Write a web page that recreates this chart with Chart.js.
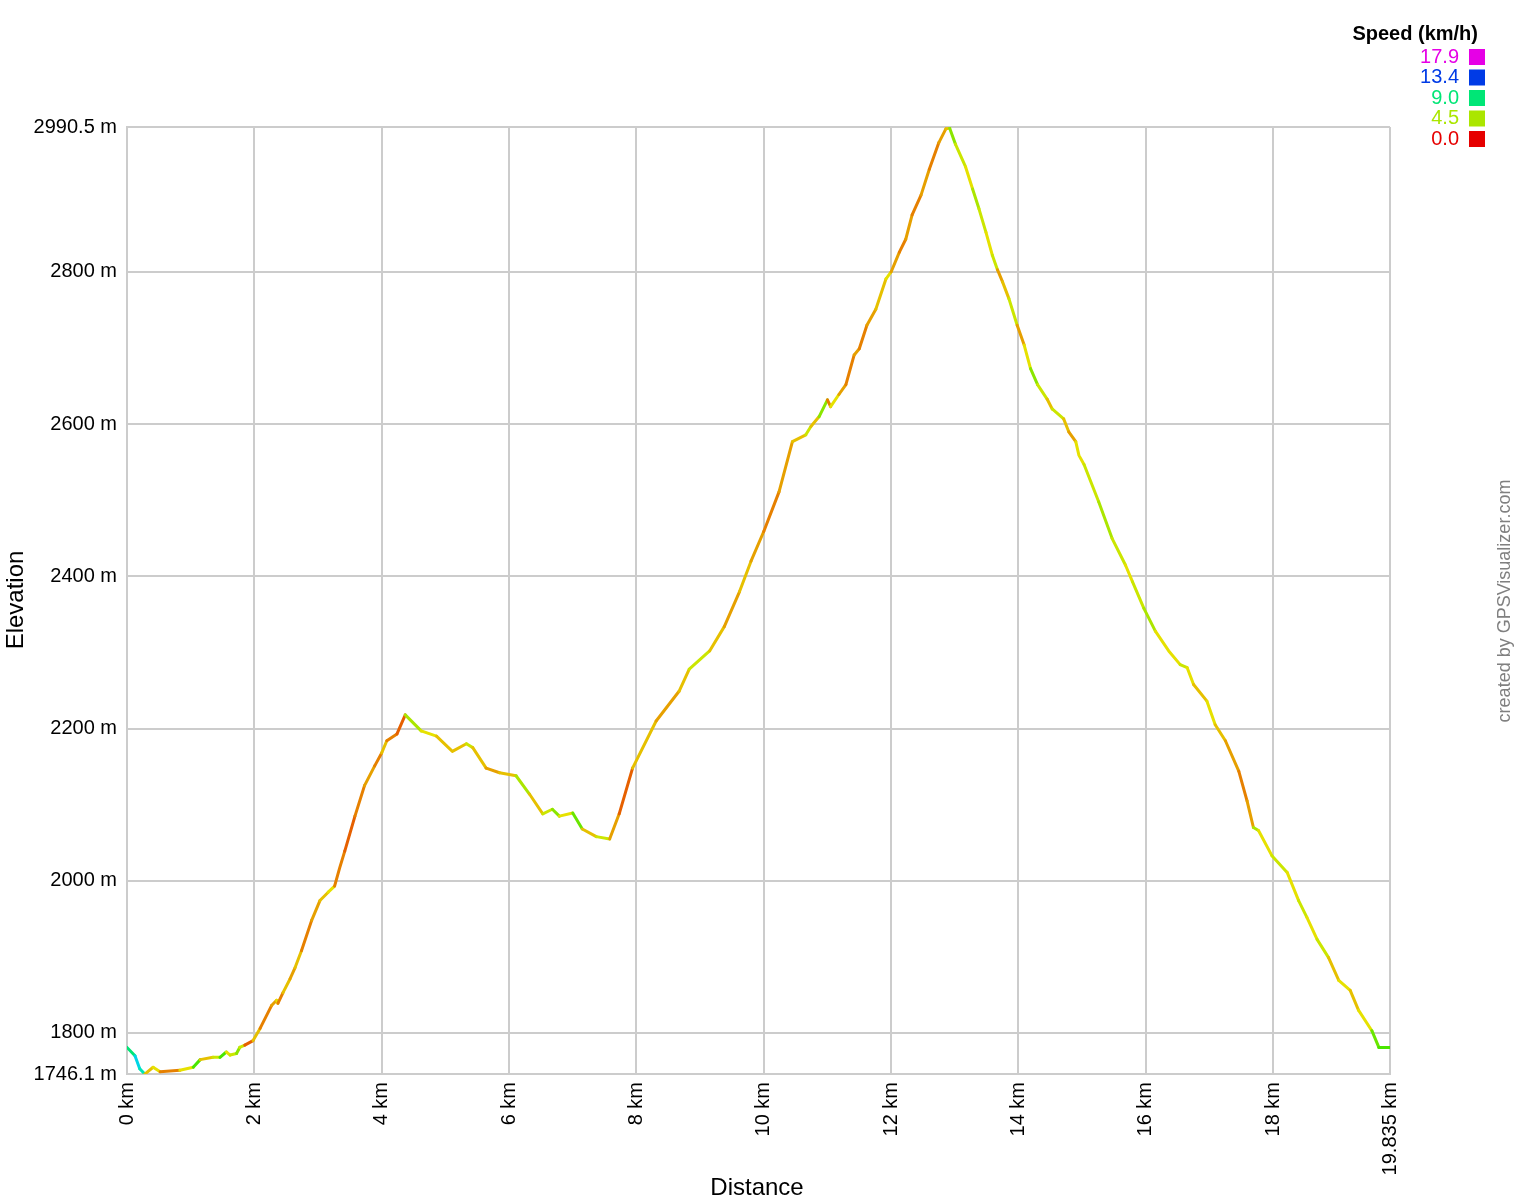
<!DOCTYPE html>
<html>
<head>
<meta charset="utf-8">
<script src="https://cdn.jsdelivr.net/npm/chart.js@4/dist/chart.umd.min.js"></script>
<style>
html,body{margin:0;padding:0;background:#fff;}
#wrap{width:1516px;height:1200px;position:relative;}
</style>
</head>
<body>
<div id="wrap"><canvas id="c" width="1516" height="1200"></canvas></div>
<script>
// Distance along track (km)
const distanceKm = [
  0,0.125,0.2,0.28,0.41,0.52,0.83,1.04,1.15,1.35,1.46,1.56,1.62,1.72,1.77,1.85,
  1.98,2.09,2.27,2.35,2.37,2.45,2.56,2.64,2.74,2.9,3.03,3.16,3.26,3.34,
  3.42,3.58,3.73,3.89,
  4.0,4.08,4.24,4.37,4.62,4.86,5.11,5.33,5.43,5.64,5.85,6.11,6.32,6.53,6.68,6.79,7.0,7.15,7.37,7.58,7.73,7.94,8.31,8.67,8.83,9.15,9.38,9.62,9.8,10.0,10.24,10.45,10.66,10.74,10.87,11.0,11.05,11.18,11.29,11.42,11.5,11.62,11.76,11.92,12.0,12.13,12.23,12.33,12.47,12.6,12.75,12.86,12.92,13.01,13.17,13.28,13.38,13.49,13.59,13.67,13.75,13.85,13.98,14.09,14.19,14.3,14.45,14.53,14.71,14.79,14.9,
  14.95,15.03,15.26,15.47,15.68,15.79,15.97,16.15,16.36,16.54,16.65,16.75,16.96,17.09,17.25,17.46,17.59,17.69,17.77,17.98,18.22,18.4,18.53,18.69,18.87,19.03,19.21,19.34,19.55,19.66,19.835
];
// Elevation (m)
const elevationM = [
  1781,1770,1753,1746,1755,1749,1751,1755,1765,1768,1768,1775,1771,1773,1781,1784,
  1790,1806,1836,1843,1839,1853,1871,1886,1908,1948,1974,1985,1993,2017,
  2039,2085,2125,2151,
  2168,2184,2193,2218,2197,2190,2170,2180,2175,2148,2142,2138,2114,2088,2094,2085,2089,2068,2058,2055,2088,2148,2210,2249,2278,2302,2334,2380,2420,2459,2511,2577,2586,2597,2610,2632,2623,2639,2652,2691,2699,2730,2751,2791,2800,2826,2843,2875,2901,2935,2970,2988,2989,2968,2938,2909,2883,2852,2822,2803,2787,2765,2730,2704,2673,2652,2633,2620,2607,2590,2577,
  2559,2547,2498,2450,2415,2393,2358,2328,2302,2284,2280,2258,2236,2205,2184,2144,2105,2070,2066,2033,2011,1974,1952,1923,1899,1869,1856,1830,1803,1781,1781
];
// Speed (km/h) at each point
const speedKmh = [
  4,9,11,10,3,3.5,2,3.5,6,3,4,6,3.5,4,5,4,
  1.5,3,2,2.5,3.5,2,3,2.5,3,2,2.5,3,3.5,2,
  2,1.5,2,2.5,
  2,3,2,1.5,4.5,3.5,3,3,4,3,2.5,3,4.5,3,4,5,3.5,5.5,3,4,2.5,1.5,3,2.5,3,4,3,2.5,3,2.5,2,2.5,3,4,3,5,2,3.5,2.5,2,2.5,2,2.5,3,3.5,2.5,2,2.5,2,2.5,2,2.5,3,5,4,3.5,4.5,4,3.5,4,2.5,3,4,2.5,3.5,5,4,3,4,3,2.5,
  3.5,3.5,4,4.5,4,3.5,4,4.5,3.5,3.5,4,3.5,3,3.5,3,2.5,2,2.5,4.5,3.5,4,3.5,4,3.5,4,3,3.5,3,3.5,5.5,6
];
// Axis ticks
const xTicks = [0,2,4,6,8,10,12,14,16,18,19.835];
const yTicks = [1746.1,1800,2000,2200,2400,2600,2800,2990.5];
// Legend
const legendSpeeds = ['17.9','13.4','9.0','4.5','0.0'];
const speedMax = 17.9;

function speedColor(s){
  if (typeof s !== 'number' || isNaN(s)) s = 4;
  const h = Math.max(0, Math.min(300, s / speedMax * 300));
  return 'hsl(' + h.toFixed(1) + ',100%,45%)';
}

const points = distanceKm.map((d,i)=>({x:d,y:elevationM[i]}));

const decor = {
  id:'decor',
  afterDraw(chart){
    const c = chart.ctx;
    c.save();
    c.fillStyle = '#000';
    c.font = '24px "Liberation Sans", Arial, sans-serif';
    c.textAlign = 'center';
    c.textBaseline = 'middle';
    c.fillText('Distance', 757, 1188);
    c.save();
    c.translate(16, 600);
    c.rotate(-Math.PI/2);
    c.fillText('Elevation', 0, 0);
    c.restore();
    // credit
    c.save();
    c.translate(1505, 601);
    c.rotate(-Math.PI/2);
    c.fillStyle = '#808080';
    c.font = '18px "Liberation Sans", Arial, sans-serif';
    c.fillText('created by GPSVisualizer.com', 0, 0);
    c.restore();
    // legend
    c.textAlign = 'right';
    c.font = 'bold 20px "Liberation Sans", Arial, sans-serif';
    c.fillStyle = '#000';
    c.fillText('Speed (km/h)', 1478, 34);
    c.font = '20px "Liberation Sans", Arial, sans-serif';
    legendSpeeds.forEach((s,i)=>{
      const y = 57 + i*20.5;
      const col = speedColor(parseFloat(s));
      c.fillStyle = col;
      c.fillText(s, 1459, y);
      c.fillRect(1469, y-8, 16, 16);
    });
    c.restore();
  }
};

new Chart(document.getElementById('c'), {
  type:'line',
  data:{
    datasets:[{
      data: points,
      borderWidth: 3,
      pointRadius: 0,
      borderJoinStyle:'round',
      borderCapStyle:'round',
      tension: 0,
      borderColor: speedColor(4),
      segment:{ borderColor: ctx => speedColor(speedKmh[ctx.p1DataIndex]) }
    }]
  },
  options:{
    responsive:false,
    animation:false,
    events:[],
    layout:{padding:{top:127,right:126,left:0,bottom:0}},
    plugins:{legend:{display:false},tooltip:{enabled:false}},
    scales:{
      x:{
        type:'linear', min:0, max:19.835,
        afterBuildTicks: s => { s.ticks = xTicks.map(v=>({value:v})); },
        afterFit: s => { s.height = 126; },
        grid:{color:'#cccccc', lineWidth:2, drawTicks:false},
        border:{color:'#cccccc', width:2},
        ticks:{
          autoSkip:false, minRotation:90, maxRotation:90, padding:8,
          color:'#000', font:{family:'"Liberation Sans", Arial, sans-serif', size:20},
          callback: v => (v === 19.835 ? '19.835' : String(v)) + ' km'
        }
      },
      y:{
        type:'linear', min:1746.1, max:2990.5,
        afterBuildTicks: s => { s.ticks = yTicks.map(v=>({value:v})); },
        afterFit: s => { s.width = 127; },
        grid:{color:'#cccccc', lineWidth:2, drawTicks:false},
        border:{color:'#cccccc', width:2},
        ticks:{
          autoSkip:false, padding:10,
          color:'#000', font:{family:'"Liberation Sans", Arial, sans-serif', size:20},
          callback: v => String(v) + ' m'
        }
      }
    }
  },
  plugins:[decor]
});
</script>
</body>
</html>
